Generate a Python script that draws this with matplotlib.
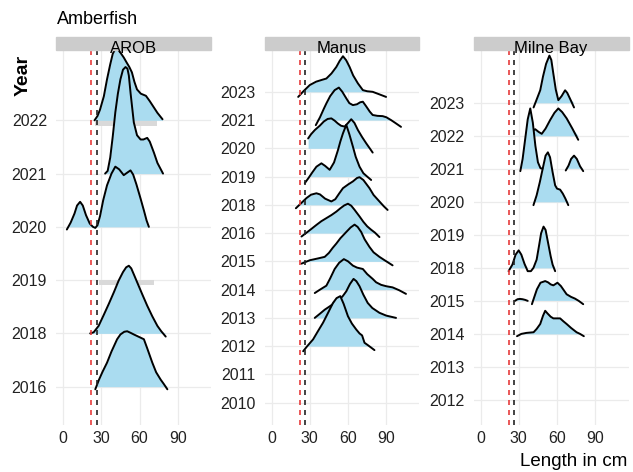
import numpy as np
import matplotlib
matplotlib.use('Agg')
import matplotlib.pyplot as plt
from matplotlib.patches import Rectangle

plt.rcParams['font.family'] = ['Liberation Sans', 'DejaVu Sans']

nan = np.nan

# ---- data: length (cm) and ridge height (in rows) ----
arob_years = [2016, 2018, 2019, 2020, 2021, 2022]
arob_x = {
    2022: [24.7, 27, 29, 32, 34.5, 37, 39, 41, 43, 45, 47.6, 50, 52, 54, 56, 58, 61, 65, 68, 71, 74, 78],
    2021: [33, 35, 37, 39, 41, 43, 45, 47, 49, 50.5, 51.6, 53, 55.5, 58, 60.8, 63, 66, 68, 71.3, 74, 78.4],
    2020: [3, 6, 9, 11, 13.4, 15.5, 18, 21, 23.5, 25.3, 27, 29, 31.5, 34.5, 38, 41, 44, 47.6, 50.5, 52.9,
           55, 57.5, 60.8, 63.5, 65.5, 67.3],
    2018: [21.3, 24, 27.9, 32, 36, 40, 43.6, 47, 49.5, 51.6, 53.5, 56, 58.1, 62, 66, 70, 74, 77, 80.5],
    2016: [25.3, 28, 31, 34.5, 38, 42.4, 45, 48, 50.3, 53, 55.5, 59, 63.4, 66, 70, 73, 76.6, 79, 81.8],
}
arob_h = {
    2022: [0.0, 0.08, 0.2, 0.45, 0.77, 1.05, 1.25, 1.34, 1.33, 1.27, 1.18, 1.08, 1.0, 0.9, 0.72, 0.58, 0.5,
           0.46, 0.36, 0.25, 0.14, 0.02],
    2021: [0.0, 0.05, 0.3, 0.7, 1.15, 1.5, 1.77, 1.95, 2.0, 1.97, 1.84, 1.5, 0.96, 0.72, 0.64, 0.64, 0.67,
           0.6, 0.39, 0.2, 0.0],
    2020: [-0.05, 0.08, 0.25, 0.4, 0.47, 0.4, 0.22, 0.06, 0.0, -0.02, 0.03, 0.2, 0.5, 0.78, 1.0, 1.13, 1.08,
           0.97, 1.02, 1.06, 0.98, 0.8, 0.53, 0.3, 0.12, 0.0],
    2018: [0.0, 0.02, 0.14, 0.35, 0.56, 0.78, 0.99, 1.15, 1.24, 1.27, 1.22, 1.08, 0.96, 0.74, 0.52, 0.32,
           0.14, 0.04, -0.06],
    2016: [-0.05, 0.12, 0.28, 0.45, 0.66, 0.89, 0.98, 1.03, 1.04, 1.01, 0.98, 0.94, 0.89, 0.72, 0.45, 0.27,
           0.13, 0.05, -0.05],
}
arob_flat = {2022: [25, 74], 2019: [28, 71]}

manus_years = [2010, 2011, 2012, 2013, 2014, 2015, 2016, 2018, 2019, 2020, 2021, 2023]
manus_x = {
    2023: [20.9, 25, 30, 35, 40, 43, 47, 50.8, 53.5, 56, 58.5, 61.2, 64, 67.7, 71.6, 75, 79.3, 84, 89.8],
    2021: [34.7, 38, 41, 43, 46, 49.5, 52.8, 55.5, 58.6, 61, 63.8, 67, 69.5, 71.6, 74, 77, 79.3, 83, 87.1,
           90, 93.7, 97, 101.5],
    2020: [28.7, 31, 34, 37.8, 41, 44, 46.9, 49.5, 52, 54.5, 57.3, 60, 62.5, 65, 67.7, 71, 74.2, 77, 79.3],
    2019: [26.1, 29, 32, 35.2, 39.1, 42, 45.6, 49, 52.1, 54, 56, 58.6, 61, 63.8, 66, 69, 72, 75, 78.1],
    2018: [19.1, 23, 27.4, 31, 35.2, 38, 42, 46.9, 50, 53, 56, 60, 63.8, 67, 69, 72, 76.8, 80, 84.6, 88, 91],
    2016: [23.5, 27, 31, 35.2, 39, 43, 47, 50.8, 54, 57, 59.9, 62.5, 65, 69, 72, 75, 78.1, 81, 84.6],
    2015: [23.5, 30, 36, 41.7, 45, 48, 50.8, 54, 58.6, 62, 65.1, 67.5, 70.3, 73, 76.8, 80, 84.6, 89, 94.9],
    2014: [33.9, 38, 43, 46, 49.5, 53, 56.7, 60, 63.8, 67, 71.6, 75, 79.3, 82, 85.9, 90, 94.9, 100, 105.4],
    2013: [33.9, 38, 41.7, 46, 50, 53.4, 56, 58.6, 61.5, 64.3, 66.5, 69, 72, 75.4, 79, 84.6, 90, 97.6],
    2012: [24.8, 28, 32.6, 36, 40.4, 44, 48.2, 51, 53.9, 56.5, 59.9, 63, 66.4, 69, 71, 72.9, 76, 80.7],
}
manus_h = {
    2023: [-0.18, 0.02, 0.24, 0.36, 0.43, 0.47, 0.65, 0.88, 1.1, 1.26, 1.12, 0.88, 0.58, 0.3, 0.06, 0.02,
           0.0, -0.08, -0.18],
    2021: [-0.18, 0.1, 0.4, 0.59, 0.85, 1.06, 1.15, 1.0, 0.77, 0.6, 0.53, 0.56, 0.63, 0.65, 0.5, 0.3, 0.18,
           0.15, 0.14, 0.1, 0.0, -0.1, -0.24],
    2020: [0.35, 0.5, 0.65, 0.8, 0.95, 1.04, 1.06, 0.98, 0.88, 0.8, 0.77, 0.9, 1.03, 0.9, 0.65, 0.4, 0.18,
           0.0, -0.15],
    2019: [-0.23, -0.05, 0.15, 0.35, 0.47, 0.38, 0.24, 0.5, 0.94, 1.25, 1.53, 1.83, 1.5, 1.06, 0.7, 0.35,
           0.12, 0.0, -0.12],
    2018: [-0.12, 0.05, 0.24, 0.36, 0.41, 0.37, 0.22, 0.12, 0.2, 0.4, 0.59, 0.72, 0.83, 0.95, 0.98, 0.88,
           0.59, 0.35, 0.12, -0.05, -0.18],
    2016: [-0.12, 0.0, 0.14, 0.29, 0.42, 0.53, 0.64, 0.76, 0.88, 0.98, 1.04, 0.97, 0.83, 0.59, 0.4, 0.24,
           0.12, 0.02, -0.14],
    2015: [-0.08, 0.04, 0.1, 0.16, 0.3, 0.48, 0.63, 0.82, 1.04, 1.2, 1.3, 1.22, 1.04, 0.78, 0.51, 0.32,
           0.16, 0.03, -0.14],
    2014: [-0.12, 0.0, 0.14, 0.4, 0.73, 0.95, 1.08, 1.0, 0.85, 0.78, 0.73, 0.55, 0.38, 0.26, 0.17, 0.12,
           0.08, -0.02, -0.15],
    2013: [0.0, 0.15, 0.29, 0.42, 0.55, 0.65, 0.78, 0.94, 1.2, 1.38, 1.3, 1.12, 0.82, 0.53, 0.35, 0.18,
           0.08, 0.0],
    2012: [-0.18, 0.0, 0.24, 0.5, 0.83, 1.15, 1.53, 1.7, 1.77, 1.5, 1.06, 0.8, 0.59, 0.45, 0.38, 0.12,
           0.02, -0.14],
}

milne_years = [2012, 2013, 2014, 2015, 2018, 2019, 2020, 2021, 2022, 2023]
milne_x = {
    2023: [41.6, 44, 46.8, 49, 51.4, 54, 55.5, 57.1, 59, 61, 63.5, 66.3, 68, 70.1, 73.3],
    2022: [36.4, 39, 42.9, 45.5, 48, 51, 54.6, 58, 61, 64, 67.5, 72, 76.6],
    2021: [31.2, 33, 35, 37, 39, 41, 43, 45, 47, 49, nan, 66.8, 69, 71, 73.3, 75.5, 78, 80.5],
    2020: [41.5, 44, 46.5, 49, 51, 52.8, 54.5, 56.5, 58.5, 60, 62.4, 64.5, 66.5, 68.8],
    2018: [22, 25, 27.5, 29.9, 32, 34.5, 37, 39.5, 41.5, 44, 46, 47.5, 49.4, 51, 53, 55, 56.5, 58.5],
    2015: [27, 29, 31, 33, 35, 37, nan, 40.3, 42, 44.2, 47, 50.7, 53, 55, 57.1, 60.3, 63, 67.5, 71, 74, 77,
           80.5],
    2014: [28.6, 32, 36, 41.6, 44, 46.8, 49, 50.7, 52.5, 55, 57.1, 60, 62.4, 65, 67.5, 71, 75.3, 78, 81],
}
milne_h = {
    2023: [-0.14, 0.1, 0.38, 0.8, 1.18, 1.43, 1.3, 0.88, 0.4, 0.08, 0.2, 0.38, 0.3, 0.13, -0.14],
    2022: [0.0, 0.12, 0.2, 0.12, 0.06, 0.22, 0.48, 0.7, 0.83, 0.72, 0.53, 0.22, -0.12],
    2021: [-0.07, 0.3, 0.9, 1.5, 1.83, 1.4, 0.7, 0.2, 0.02, 0.0, nan, -0.05, 0.1, 0.3, 0.4, 0.3, 0.08,
           -0.07],
    2020: [-0.1, 0.2, 0.6, 1.05, 1.4, 1.5, 1.35, 0.9, 0.5, 0.4, 0.37, 0.25, 0.1, -0.1],
    2018: [-0.1, 0.1, 0.4, 0.53, 0.4, 0.12, -0.1, -0.1, 0.0, 0.25, 0.7, 1.05, 1.25, 1.15, 0.75, 0.35, 0.1,
           -0.1],
    2015: [0.0, 0.05, 0.06, 0.05, 0.03, 0.0, nan, -0.1, 0.1, 0.35, 0.55, 0.6, 0.56, 0.5, 0.47, 0.55, 0.45,
           0.2, 0.12, 0.07, 0.0, -0.1],
    2014: [-0.07, 0.0, 0.03, 0.05, 0.15, 0.3, 0.55, 0.7, 0.62, 0.52, 0.47, 0.47, 0.47, 0.38, 0.3, 0.18,
           0.05, 0.0, -0.07],
}

size_red = 22      # red dashed reference length
size_black = 26.5  # black dashed reference length

FILL = '#aadcf0'
TXT = '#222222'

fig = plt.figure(figsize=(6.33, 4.72), dpi=100)

panels = [
    ('AROB', arob_years, arob_x, arob_h, arob_flat, 56, (-0.72, 6.32)),
    ('Manus', manus_years, manus_x, manus_h, {}, 264.5, (-0.79, 12.48)),
    ('Milne Bay', milne_years, milne_x, milne_h, {}, 473.5, (-0.76, 10.6)),
]

for name, years, xs, hs, flat, left_px, ylim in panels:
    ax = fig.add_axes([left_px / 633, 1 - 425 / 472, 155 / 633, 375 / 472])
    ax.set_xlim(-5.5, 116)
    ax.set_ylim(*ylim)

    # draw top row first so lower ridges sit in front
    n = len(years)
    for i in range(n - 1, -1, -1):
        yr = years[i]
        z = 3 + (n - i) * 2
        if yr in flat:
            x0, x1 = flat[yr]
            ax.fill_between([x0, x1], i - 0.1, i, color='#d9d9d9', lw=0, zorder=z)
        if yr not in xs:
            continue
        x = np.array(xs[yr], float)
        h = np.array(hs[yr], float)
        ax.fill_between(x, i, i + np.clip(h, 0, None), color=FILL, lw=0, zorder=z)
        ax.plot(x, i + h, color='black', lw=1.4, zorder=z + 1, solid_capstyle='round')

    ax.axvline(size_red, color='#e63b3b', lw=1.2, ls=(0, (3, 3)), zorder=40)
    ax.axvline(size_black, color='#222222', lw=1.2, ls=(0, (3, 3)), zorder=40)

    ax.set_yticks(range(n))
    ax.set_yticklabels([str(y) for y in years])
    ax.set_xticks([0, 30, 60, 90])
    ax.tick_params(length=0, labelsize=11.5, labelcolor=TXT)
    ax.tick_params(axis='y', pad=6.5)
    ax.tick_params(axis='x', pad=4)
    ax.grid(True, color='#ebebeb', lw=0.9, zorder=0)
    ax.set_axisbelow(True)
    for s in ax.spines.values():
        s.set_visible(False)

    # facet strip
    ax.add_patch(Rectangle((0, 1), 1, 13.3 / 375, transform=ax.transAxes,
                           color='#cccccc', clip_on=False, zorder=50))
    ax.text(0.5, 1.003, name, transform=ax.transAxes, ha='center', va='center',
            fontsize=12, color='black', zorder=51)

fig.text(57 / 633, 1 - 20 / 472, 'Amberfish', fontsize=13, va='center', ha='left')
fig.text(23 / 633, 1 - 75 / 472, 'Year', fontsize=14, fontweight='bold',
         rotation=90, va='center', ha='center')
fig.text(627 / 633, 1 - 462 / 472, 'Length in cm', fontsize=13.5, va='center', ha='right')

fig.savefig('out.png', dpi=100)
